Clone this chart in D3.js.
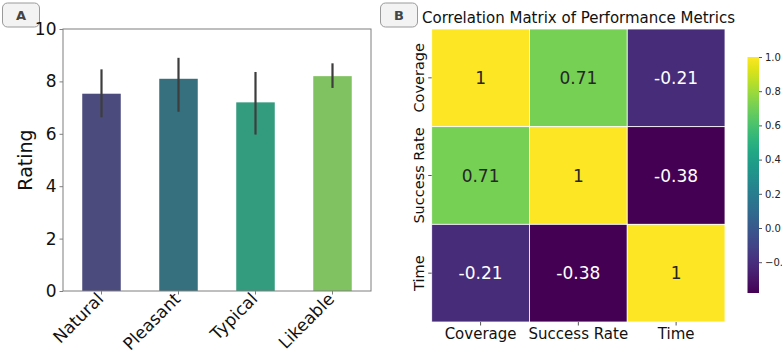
<!DOCTYPE html>
<html>
<head>
<meta charset="utf-8">
<script src="https://cdn.jsdelivr.net/npm/d3@7"></script>
<style>
  body { margin: 0; background: #fff; }
  svg { font-family: "DejaVu Sans", sans-serif; display: block; }
</style>
</head>
<body>
<script>
// panel A data
const categories = ['Natural', 'Pleasant', 'Typical', 'Likeable']
const ratings = [7.53, 8.1, 7.2, 8.2]
const errLow = [6.63, 6.84, 5.97, 7.75]
const errHigh = [8.46, 8.9, 8.36, 8.69]
const barColors = ['#4b4b7e', '#36707e', '#339b7e', '#80c261']
const yTicks = [0, 2, 4, 6, 8, 10]

// panel B data
const metrics = ['Coverage', 'Success Rate', 'Time']
const corr = [
  [1, 0.71, -0.21],
  [0.71, 1, -0.38],
  [-0.21, -0.38, 1]
]
const corrLabels = [
  ['1', '0.71', '-0.21'],
  ['0.71', '1', '-0.38'],
  ['-0.21', '-0.38', '1']
]
const cbTicks = [1.0, 0.8, 0.6, 0.4, 0.2, 0.0, -0.2]

const svg = d3.select('body').append('svg')
  .attr('width', 782)
  .attr('height', 357)

// badges
function badge(x, label) {
  const g = svg.append('g').attr('transform', `translate(${x}, 3)`)
  g.append('rect')
    .attr('width', 37).attr('height', 24).attr('rx', 5)
    .style('fill', '#f3f3f3').style('stroke', '#9a9a9a').style('stroke-width', 1)
  g.append('text')
    .attr('x', 18.5).attr('y', 17)
    .attr('text-anchor', 'middle')
    .style('font-size', '13px').style('font-weight', 'bold').style('fill', '#444')
    .text(label)
}
badge(2.5, 'A')
badge(380.5, 'B')

// ---- panel A: bar chart ----
const a = { left: 63, top: 29, right: 371, bottom: 291 }

const x = d3.scaleBand()
  .domain(categories)
  .range([a.left, a.right])
  .paddingInner(0.5)
  .paddingOuter(0.25)

const y = d3.scaleLinear()
  .domain([0, 10])
  .range([a.bottom, a.top])

const gA = svg.append('g')

gA.selectAll('.bar')
  .data(categories)
  .enter().append('rect')
  .attr('class', 'bar')
  .attr('x', d => x(d))
  .attr('width', x.bandwidth())
  .attr('y', (d, i) => y(ratings[i]))
  .attr('height', (d, i) => y(0) - y(ratings[i]))
  .style('fill', (d, i) => barColors[i])

gA.selectAll('.err')
  .data(categories)
  .enter().append('line')
  .attr('class', 'err')
  .attr('x1', d => x(d) + x.bandwidth() / 2)
  .attr('x2', d => x(d) + x.bandwidth() / 2)
  .attr('y1', (d, i) => y(errLow[i]))
  .attr('y2', (d, i) => y(errHigh[i]))
  .style('stroke', '#3d3d3d')
  .style('stroke-width', 2.2)

gA.append('rect')
  .attr('x', a.left).attr('y', a.top)
  .attr('width', a.right - a.left).attr('height', a.bottom - a.top)
  .style('fill', 'none').style('stroke', '#7f7f7f').style('stroke-width', 1)

const yAxis = gA.append('g')
  .attr('transform', `translate(${a.left}, 0)`)
  .call(d3.axisLeft(y).tickValues(yTicks).tickSize(3.5).tickPadding(3))
yAxis.select('.domain').remove()
yAxis.selectAll('line').style('stroke', '#7f7f7f')
yAxis.selectAll('text').style('font-size', '17px').style('fill', '#111').style('font-family', '"DejaVu Sans", sans-serif')

const xAxis = gA.append('g')
  .attr('transform', `translate(0, ${a.bottom})`)
  .call(d3.axisBottom(x).tickSize(3.5).tickPadding(2))
xAxis.select('.domain').remove()
xAxis.selectAll('line').style('stroke', '#7f7f7f')
xAxis.selectAll('text')
  .style('font-size', '17px').style('fill', '#111').style('font-family', '"DejaVu Sans", sans-serif')
  .attr('text-anchor', 'end')
  .attr('dy', null)
  .attr('x', 3)
  .attr('y', 9)
  .attr('transform', 'rotate(-45, 3, 9)')

gA.append('text')
  .attr('transform', `translate(32, ${(a.top + a.bottom) / 2}) rotate(-90)`)
  .attr('text-anchor', 'middle')
  .style('font-size', '19px').style('fill', '#111')
  .text('Rating')

// ---- panel B: heatmap ----
const h = { left: 431.7, top: 29, right: 725, bottom: 322 }

const cx = d3.scaleBand().domain(metrics).range([h.left, h.right])
const cy = d3.scaleBand().domain(metrics).range([h.top, h.bottom])
const color = d3.scaleSequential(d3.interpolateViridis).domain([-0.38, 1])

const cells = []
metrics.forEach((r, i) => metrics.forEach((c, j) => {
  cells.push({ row: r, col: c, value: corr[i][j], label: corrLabels[i][j] })
}))

const gB = svg.append('g')

gB.selectAll('.cell')
  .data(cells)
  .enter().append('rect')
  .attr('class', 'cell')
  .attr('x', d => cx(d.col))
  .attr('y', d => cy(d.row))
  .attr('width', cx.bandwidth())
  .attr('height', cy.bandwidth())
  .style('fill', d => color(d.value))
  .style('stroke', '#fff')
  .style('stroke-width', 0.8)

gB.selectAll('.annot')
  .data(cells)
  .enter().append('text')
  .attr('class', 'annot')
  .attr('x', d => cx(d.col) + cx.bandwidth() / 2)
  .attr('y', d => cy(d.row) + cy.bandwidth() / 2)
  .attr('dy', '0.36em')
  .attr('text-anchor', 'middle')
  .style('font-size', '17px')
  .style('fill', d => d.value > 0.3 ? '#262626' : '#ffffff')
  .text(d => d.label)

const hx = gB.append('g')
  .attr('transform', `translate(0, ${h.bottom})`)
  .call(d3.axisBottom(cx).tickSize(3.5).tickPadding(3))
hx.select('.domain').remove()
hx.selectAll('line').style('stroke', '#555')
hx.selectAll('text').style('font-size', '15px').style('fill', '#111').style('font-family', '"DejaVu Sans", sans-serif')

const hy = gB.append('g')
  .attr('transform', `translate(${h.left}, 0)`)
  .call(d3.axisLeft(cy).tickSize(3.5).tickPadding(0))
hy.select('.domain').remove()
hy.selectAll('line').style('stroke', '#555')
hy.selectAll('text')
  .style('font-size', '14.5px').style('fill', '#111').style('font-family', '"DejaVu Sans", sans-serif')
  .attr('text-anchor', 'middle')
  .attr('dy', null)
  .attr('x', 0)
  .attr('y', 0)
  .attr('transform', 'translate(-8, 0) rotate(-90)')

gB.append('text')
  .attr('x', 578.5)
  .attr('y', 23)
  .attr('text-anchor', 'middle')
  .style('font-size', '15px').style('fill', '#111')
  .text('Correlation Matrix of Performance Metrics')

// colorbar
const cb = { left: 747.5, width: 11.5, top: 57, bottom: 293 }
const cbScale = d3.scaleLinear().domain([-0.38, 1]).range([cb.bottom, cb.top])

const defs = svg.append('defs')
const grad = defs.append('linearGradient')
  .attr('id', 'cbgrad')
  .attr('x1', '0%').attr('y1', '100%').attr('x2', '0%').attr('y2', '0%')
d3.range(0, 1.0001, 0.05).forEach(t => {
  grad.append('stop')
    .attr('offset', `${t * 100}%`)
    .attr('stop-color', d3.interpolateViridis(t))
})

gB.append('rect')
  .attr('x', cb.left).attr('y', cb.top)
  .attr('width', cb.width).attr('height', cb.bottom - cb.top)
  .style('fill', 'url(#cbgrad)')

const cbAxis = gB.append('g')
  .attr('transform', `translate(${cb.left + cb.width}, 0)`)
  .call(d3.axisRight(cbScale).tickValues(cbTicks).tickSize(3).tickPadding(3)
    .tickFormat(d => d < 0 ? '\u2212' + Math.abs(d).toFixed(1) : d.toFixed(1)))
cbAxis.select('.domain').remove()
cbAxis.selectAll('line').style('stroke', '#555')
cbAxis.selectAll('text').style('font-size', '10px').style('fill', '#222').style('font-family', '"DejaVu Sans", sans-serif')
</script>
</body>
</html>
